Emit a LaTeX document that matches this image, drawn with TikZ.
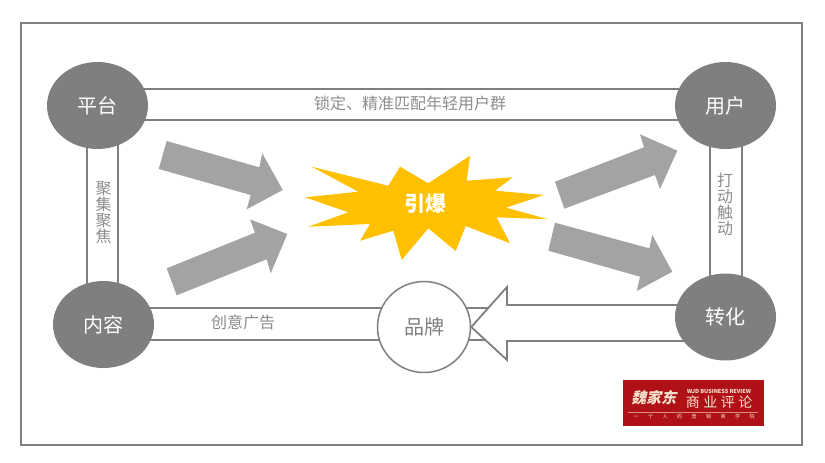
\documentclass[tikz,border=0pt]{standalone}
\usepackage{fontspec}
\setmainfont{Noto Sans CJK SC}
\usetikzlibrary{backgrounds, calc, shapes.geometric}
\definecolor{bandgray}{HTML}{7F7F7F}
\definecolor{arrowgray}{HTML}{A3A3A3}
\definecolor{burstgold}{HTML}{FFC000}
\definecolor{logored}{HTML}{B01116}
\definecolor{logotext}{HTML}{F5E3D0}
\tikzset{
  hub/.style={ellipse, fill=bandgray, text=white, inner sep=0pt, minimum width=101pt, minimum height=87pt, font=\fontsize{20}{20}\selectfont},
  band/.style={draw=bandgray, line width=1.8pt},
  bandlabel/.style={text=bandgray!90, inner sep=0pt, font=\fontsize{16}{16}\selectfont},
  sidelabel/.style={bandlabel, align=center, font=\fontsize{16}{16}\selectfont}
}
\begin{document}
\begin{tikzpicture}[x=1pt, y=-1pt]
        \useasboundingbox (0,0) rectangle (825,463);
        \node[hub] (PT) at (97.5, 105.5) {平台};
        \node[hub] (YH) at (725.5, 105.5) {用户};
        \node[hub] (NR) at (103.5, 324.5) {内容};
        \node[hub] (ZH) at (725.5, 317) {转化};
        \node[ellipse, draw=bandgray, fill=white, line width=1.5pt, inner sep=0pt, minimum width=93pt, minimum height=91pt, text=bandgray, font=\fontsize{20}{20}\selectfont]
          (PP) at (424, 327) {品牌};
        % Bands behind the circles
        \begin{scope}[on background layer]
          \draw[bandgray, line width=1.5pt] (21,23) rectangle (802,445);
          \draw[band] ($(PT.center)+(0,-16.5)$) -- ($(YH.center)+(0,-16.5)$);
          \draw[band] ($(PT.center)+(0,14.6)$) -- ($(YH.center)+(0,14.6)$);
          \draw[band] ($(PT.center)+(-10.5,0)$) -- ($(NR.center)+(-16.5,0)$);
          \draw[band] ($(PT.center)+(20.5,0)$) -- ($(NR.center)+(14.5,0)$);
          \draw[band] ($(YH.center)+(-15.5,0)$) -- ($(ZH.center)+(-15.5,0)$);
          \draw[band] ($(YH.center)+(16.5,0)$) -- ($(ZH.center)+(16.5,0)$);
          \draw[band] ($(NR.center)+(0,-16.4)$) -- ($(PP.center)+(76,-18.9)$);
          \draw[band] ($(NR.center)+(0,15.5)$) -- ($(PP.center)+(76,13)$);
          % Open arrow from ZH to PP
          \draw[bandgray, fill=white, line width=1.8pt, line join=miter]
            ($(ZH.center)+(0,-12)$) -- (507,305) -- (507,287) -- (PP.east)
            -- (507,360) -- (507,341) -- ($(ZH.center)+(0,24)$) -- cycle;
        \end{scope}
        % Labels on the bands
        \node[bandlabel] (LOCK) at (410, 103) {锁定、精准匹配年轻用户群};
        \node[bandlabel] (IDEA) at (243, 322) {创意广告};
        \node[sidelabel] (FOCUS) at (103.5, 212.5) {聚\\集\\聚\\焦};
        \node[sidelabel] (TOUCH) at (725, 204) {打\\动\\触\\动};
        % Burst
        \fill[burstgold] (311.7,166.7) -- (388.3,185.7) -- (400,166.7) -- (428.3,183.3)
          -- (470,155.7) -- (466.7,180.7) -- (512.7,177.3) -- (495,190.7) -- (544,195)
          -- (506,207.7) -- (548.3,219.3) -- (496.7,217.3) -- (510,243.3) -- (465.7,226)
          -- (455.7,251) -- (428.3,228.3) -- (401.7,260) -- (393.3,230.7) -- (360,240.7)
          -- (370,224) -- (308.3,226.7) -- (348.3,212.3) -- (305,197.3) -- (358.3,191.7) -- cycle;
        \node[text=white, inner sep=0pt, font=\fontsize{21}{21}\selectfont\bfseries] (BURST) at (425.5, 204) {引爆};
        % Grey arrows
        \fill[arrowgray] (166.7,141) -- (259.3,167.3) -- (262.3,153.3) -- (282.7,190)
          -- (246.7,209.3) -- (250.7,195) -- (158.7,169) -- cycle;
        \fill[arrowgray] (166.7,268.3) -- (255,232.7) -- (250,219.3) -- (287.3,234)
          -- (270.7,273.3) -- (266.7,259.3) -- (176.7,295.3) -- cycle;
        \fill[arrowgray] (555,181.7) -- (644,147.3) -- (640,134.3) -- (677.3,150.7)
          -- (660,189) -- (655,175) -- (564.3,208.7) -- cycle;
        \fill[arrowgray] (555,222.7) -- (649.3,248.3) -- (652.3,235) -- (672.3,271.7)
          -- (636.7,291) -- (640,276.7) -- (548.3,250.7) -- cycle;
        % Logo
        \node[fill=logored, inner sep=0pt, minimum width=141pt, minimum height=46pt] (LOGO) at (693.5, 403) {};
        \node[text=logotext, inner sep=0pt, xslant=0.25, font=\fontsize{15}{15}\selectfont\bfseries] (LOGOA) at (655, 398) {魏家东};
        \node[text=logotext, inner sep=0pt, font=\fontsize{14}{14}\selectfont\addfontfeature{LetterSpace=25}] (LOGOB) at (719, 402) {商业评论};
        \node[text=logotext, inner sep=0pt, font=\fontsize{5.5}{5.5}\selectfont\bfseries] (LOGOC) at (719, 391) {WJD BUSINESS REVIEW};
        \node[text=logotext, inner sep=0pt, font=\fontsize{5}{5}\selectfont\addfontfeature{LetterSpace=190}] (LOGOD) at (694, 417) {一个人的营销商学院};
        \draw[logotext!60!logored, line width=0.5pt] ($(LOGO.west)+(5,9)$) -- ($(LOGO.east)+(-6,9)$);
      \end{tikzpicture}
\end{document}
